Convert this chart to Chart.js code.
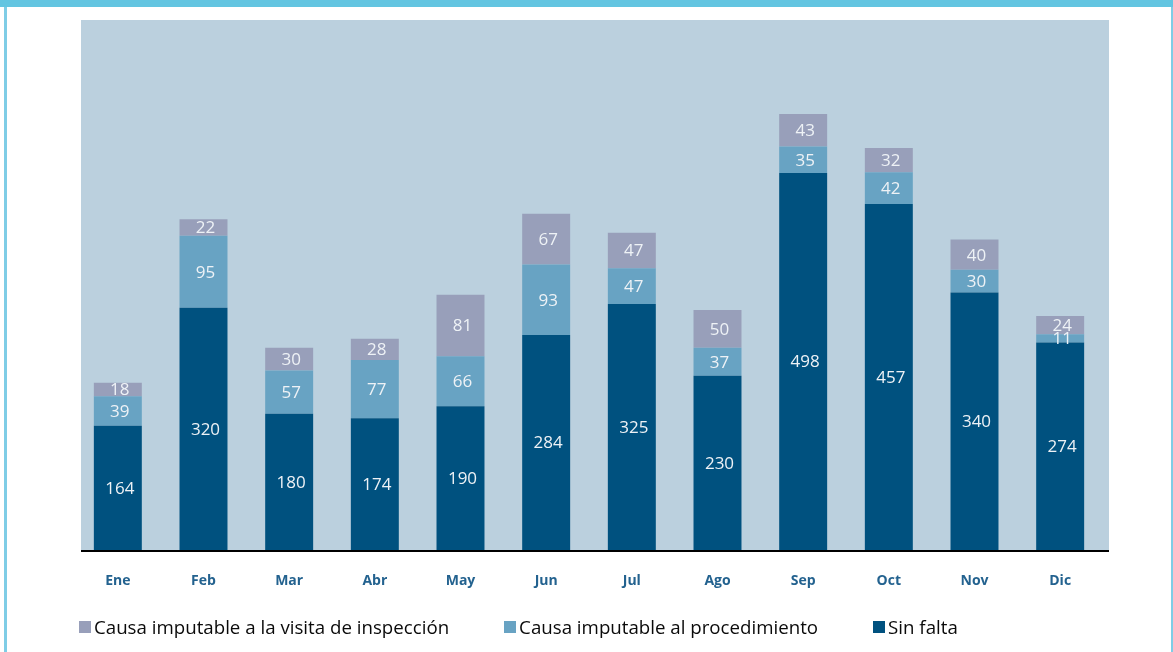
<!DOCTYPE html>
<html>
<head>
<meta charset="utf-8">
<script src="https://cdn.jsdelivr.net/npm/chart.js@4"></script>
<style>
  html, body { margin: 0; padding: 0; background: #fff; }
  body { width: 1173px; height: 652px; position: relative; overflow: hidden; }
  #topbar { position: absolute; left: 0; top: 0; width: 1173px; height: 7px; background: #63c5e1; }
  #lborder { position: absolute; left: 4px; top: 7px; width: 3px; height: 645px; background: #7fcde6; }
  #rborder { position: absolute; left: 1171px; top: 7px; width: 2px; height: 645px; background: #7fcde6; }
  #wrap { position: absolute; left: 0; top: 0; width: 1173px; height: 652px; }
  #legend { position: absolute; left: 79px; top: 614px; display: flex; gap: 55px;
            font-family: "Open Sans", sans-serif; font-size: 18.7px; font-weight: 500; color: #0a0a0a; }
  #legend .item { display: flex; align-items: center; white-space: nowrap; }
  #legend .box { width: 12px; height: 12px; margin-right: 3px; }
</style>
</head>
<body>
<div id="topbar"></div>
<div id="lborder"></div>
<div id="rborder"></div>
<div id="wrap"><canvas id="chart"></canvas></div>
<div id="legend"></div>
<script>
// ===== DATA =====
const months = ['Ene', 'Feb', 'Mar', 'Abr', 'May', 'Jun', 'Jul', 'Ago', 'Sep', 'Oct', 'Nov', 'Dic'];
const sinFalta = [164, 320, 180, 174, 190, 284, 325, 230, 498, 457, 340, 274];
const causaProcedimiento = [39, 95, 57, 77, 66, 93, 47, 37, 35, 42, 30, 11];
const causaVisita = [18, 22, 30, 28, 81, 67, 47, 50, 43, 32, 40, 24];

const COLORS = {
  sin: '#00517f',
  proc: '#68a3c3',
  visita: '#989fba',
  plot: '#bbd0de',
  tick: '#23628f',
};

// the shaded panel sits a little to the right of the category band
const PANEL_SHIFT = 6;

const datasets = [
  { label: 'Sin falta', data: sinFalta, backgroundColor: COLORS.sin },
  { label: 'Causa imputable al procedimiento', data: causaProcedimiento, backgroundColor: COLORS.proc },
  { label: 'Causa imputable a la visita de inspección', data: causaVisita, backgroundColor: COLORS.visita },
].map(d => ({ ...d, borderWidth: 0, barPercentage: 0.56, categoryPercentage: 1 }));

// plot background + baseline
const plotBg = {
  id: 'plotBg',
  beforeDatasetsDraw(chart) {
    const { ctx, chartArea: { left, top, width, height } } = chart;
    ctx.save();
    ctx.fillStyle = COLORS.plot;
    ctx.fillRect(left + PANEL_SHIFT, top, width, height);
    ctx.restore();
  },
  afterDatasetsDraw(chart) {
    const { ctx, chartArea: { left, right, bottom } } = chart;
    ctx.save();
    ctx.strokeStyle = '#000';
    ctx.lineWidth = 2;
    ctx.beginPath();
    ctx.moveTo(left + PANEL_SHIFT, bottom + 1);
    ctx.lineTo(right + PANEL_SHIFT, bottom + 1);
    ctx.stroke();
    ctx.restore();
  },
};

// values inside each segment
const segmentLabels = {
  id: 'segmentLabels',
  afterDatasetsDraw(chart) {
    const { ctx } = chart;
    ctx.save();
    ctx.textAlign = 'center';
    ctx.textBaseline = 'middle';
    ctx.fillStyle = '#eef2f6';
    ctx.font = '17px "Open Sans", sans-serif';
    chart.data.datasets.forEach((ds, i) => {
      const meta = chart.getDatasetMeta(i);
      meta.data.forEach((bar, j) => {
        const y = (bar.y + bar.base) / 2 + 1;
        ctx.fillText(String(ds.data[j]), bar.x + 2, y);
      });
    });
    ctx.restore();
  },
};

new Chart(document.getElementById('chart').getContext('2d'), {
  type: 'bar',
  data: { labels: months, datasets },
  options: {
    responsive: true,
    maintainAspectRatio: false,
    animation: false,
    layout: { padding: { left: 75, right: 70, top: 20, bottom: 0 } },
    plugins: { legend: { display: false }, tooltip: { enabled: false } },
    scales: {
      x: {
        stacked: true,
        afterFit(scale) { scale.height = 102; },
        grid: { display: false, drawTicks: false },
        border: { display: false },
        ticks: {
          color: COLORS.tick,
          padding: 23,
          font: { family: '"Open Sans", sans-serif', size: 14, weight: 'bold' },
        },
      },
      y: {
        stacked: true,
        display: false,
        min: 0,
        max: 700,
      },
    },
  },
  plugins: [plotBg, segmentLabels],
});

// legend in the order of the reference
const legendEl = document.getElementById('legend');
[datasets[2], datasets[1], datasets[0]].forEach(ds => {
  const item = document.createElement('div');
  item.className = 'item';
  item.innerHTML = `<span class="box" style="background:${ds.backgroundColor}"></span>${ds.label}`;
  legendEl.appendChild(item);
});
</script>
</body>
</html>
